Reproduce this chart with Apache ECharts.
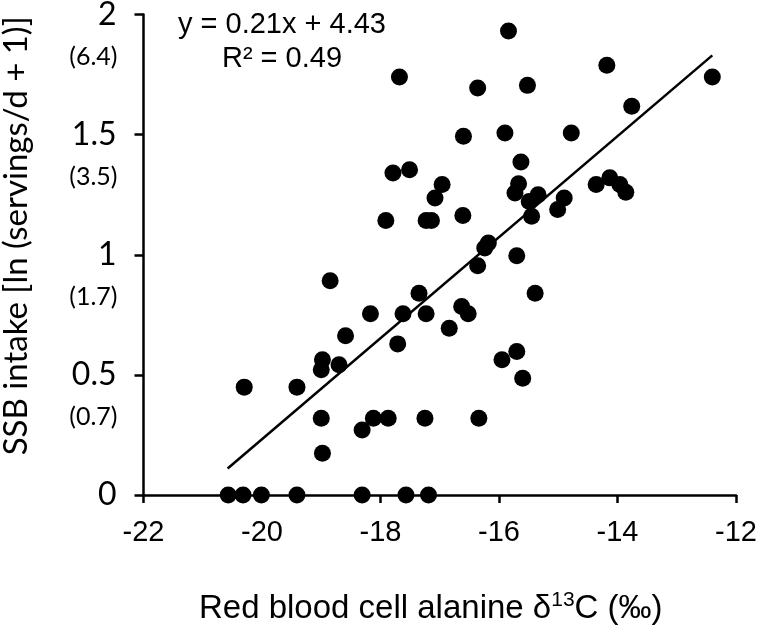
<!DOCTYPE html>
<html>
<head>
<meta charset="utf-8">
<script src="https://cdn.jsdelivr.net/npm/echarts@6/dist/echarts.min.js"></script>
<style>
  html, body { margin: 0; padding: 0; background: #fff; }
  #chart { width: 759px; height: 629px; }
</style>
</head>
<body>
<div id="chart"></div>
<script>
// measured points (delta13C, ln(servings/d + 1))
var xValues = [
  -17.68, -17.79, -17.51, -16.96, -17.08, -17.91, -17.23, -17.14,
  -15.84, -14.18, -12.40, -16.36, -15.52, -13.76, -16.60, -15.90,
  -14.78, -15.63, -15.67, -15.73, -15.34, -15.49, -14.90, -15.01,
  -15.45, -16.61, -14.36, -14.13, -13.96, -13.86, -16.18, -16.24,
  -15.70, -16.36, -15.39, -16.63, -16.52, -16.84, -15.70, -15.95,
  -15.60, -16.34, -18.85, -17.35, -18.17, -17.62, -17.23, -18.59,
  -17.71, -18.98, -19.00, -18.70, -20.30, -19.41, -19.00, -18.31,
  -18.12, -17.87, -17.25, -18.98,
  -20.57, -20.32, -20.01, -19.41, -18.31, -17.57, -17.19
];
var yValues = [
  1.740, 1.340, 1.354, 1.292, 1.236, 1.143, 1.143, 1.143,
  1.931, 1.789, 1.740, 1.694, 1.705, 1.618, 1.493, 1.507,
  1.507, 1.386, 1.296, 1.257, 1.250, 1.222, 1.236, 1.188,
  1.160, 1.163, 1.292, 1.320, 1.292, 1.260, 1.049, 1.028,
  0.996, 0.954, 0.840, 0.785, 0.754, 0.694, 0.597, 0.563,
  0.486, 0.319, 0.892, 0.840, 0.754, 0.754, 0.754, 0.663,
  0.629, 0.563, 0.521, 0.542, 0.449, 0.449, 0.319, 0.271,
  0.319, 0.319, 0.319, 0.174,
  0, 0, 0, 0, 0, 0, 0
];
// fitted line end points
var lineX = [-20.58, -12.40];
var lineY = [0.11, 1.83];
// tick labels
var yTicks = [0, 0.5, 1, 1.5, 2];
var yServings = ['', '(0.7)', '(1.7)', '(3.5)', '(6.4)'];
var eqText = ['y = 0.21x + 4.43', 'R\u00b2 = 0.49'];

var points = xValues.map(function (x, i) { return [x, yValues[i]]; });
var fit = lineX.map(function (x, i) { return [x, lineY[i]]; });

var chart = echarts.init(document.getElementById('chart'));
var option = {
  backgroundColor: '#fff',
  animation: false,
  grid: { left: 143.5, right: 23, top: 14.5, bottom: 134, outerBoundsMode: 'none', containLabel: false },
  graphic: [{
    type: 'text',
    x: 282, y: 8,
    style: {
      text: eqText.join('\n'),
      font: '29px "Liberation Sans", Arial, sans-serif',
      fill: '#000',
      textAlign: 'center',
      lineHeight: 34
    }
  }],
  xAxis: {
    type: 'value',
    min: -22, max: -12, interval: 2,
    name: '{n|Red blood cell alanine \u03b4}{s|13}{n|C (\u2030)}',
    nameLocation: 'middle',
    nameGap: 95,
    nameTextStyle: {
      color: '#000',
      padding: [0, 18, 0, 0],
      rich: {
        n: { fontFamily: '"Liberation Sans", Arial', fontSize: 33, color: '#000', lineHeight: 38 },
        s: { fontFamily: '"Liberation Sans", Arial', fontSize: 21, color: '#000', lineHeight: 38, verticalAlign: 'top', padding: [0, 0, 14, 0] }
      }
    },
    axisLine: { onZero: false, lineStyle: { color: '#000', width: 2.5 } },
    axisTick: { show: true, inside: false, length: 8, lineStyle: { color: '#000', width: 2.5 } },
    axisLabel: { fontFamily: '"Liberation Sans", Arial', fontSize: 29, color: '#000', margin: 23 },
    splitLine: { show: false }
  },
  yAxis: [{
    type: 'value',
    min: 0, max: 2, interval: 0.5,
    name: 'SSB intake [ln (servings/d + 1)]',
    nameLocation: 'middle',
    nameGap: 111,
    nameTextStyle: { fontFamily: 'Lato', fontSize: 33, color: '#000', padding: [0, 0, 0, 38] },
    axisLine: { onZero: false, lineStyle: { color: '#000', width: 2.5 } },
    axisTick: { show: true, length: 9, lineStyle: { color: '#000', width: 2.5 } },
    axisLabel: { fontFamily: 'Lato', fontSize: 32, color: '#000', margin: 27 },
    splitLine: { show: false }
  }, {
    // servings/d shown under each ln tick
    type: 'value',
    position: 'left',
    min: 0, max: 2, interval: 0.5,
    axisLine: { show: false },
    axisTick: { show: false },
    splitLine: { show: false },
    axisLabel: {
      margin: 26,
      formatter: function (v) {
        var sub = yServings[yTicks.indexOf(v)];
        return sub ? '{e| }\n{s|' + sub + '}' : '';
      },
      rich: {
        e: { fontSize: 10, lineHeight: 84 },
        s: { fontFamily: 'Lato', fontSize: 25, color: '#000', lineHeight: 30 }
      }
    }
  }],
  series: [{
    type: 'line',
    data: fit,
    symbol: 'none',
    lineStyle: { color: '#000', width: 2.5 },
    z: 2
  }, {
    type: 'scatter',
    data: points,
    symbol: 'circle',
    symbolSize: 17,
    itemStyle: { color: '#000', opacity: 1 },
    z: 3
  }]
};
chart.setOption(option);
</script>
</body>
</html>
